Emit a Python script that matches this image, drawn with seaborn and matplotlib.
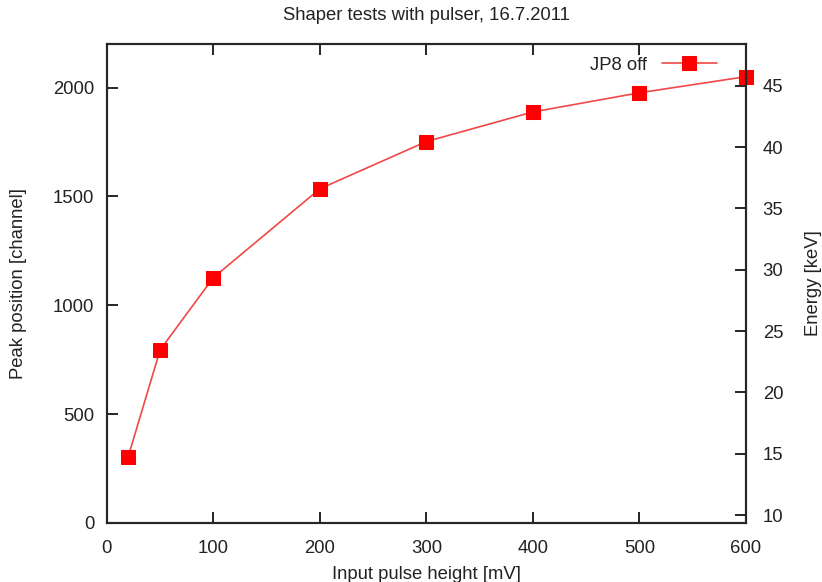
import matplotlib
matplotlib.use("Agg")
import matplotlib.pyplot as plt
import seaborn as sns
import pandas as pd

pulse_mV = [20, 50, 100, 200, 300, 400, 500, 600]
peak_channel = [304, 795, 1127, 1535, 1752, 1888, 1976, 2050]
x_ticks = [0, 100, 200, 300, 400, 500, 600]
y_ticks = [0, 500, 1000, 1500, 2000]
y2_ticks = [10, 15, 20, 25, 30, 35, 40, 45]

sns.set_style("ticks")
plt.rcParams['font.family'] = ['Liberation Sans', 'DejaVu Sans']
txt = '#222222'
fs = 13.3

fig = plt.figure(figsize=(8.22, 5.82), dpi=100)
ax = fig.add_axes([0.130, 0.1014, 0.7775, 0.823])

df = pd.DataFrame({"x": pulse_mV, "y": peak_channel})
sns.lineplot(data=df, x="x", y="y", ax=ax, color='#f04848', linewidth=1.2,
             marker='s', markersize=10.5, markeredgecolor='#ff0000',
             markerfacecolor='#ff0000', label='JP8 off', clip_on=False)

ax.set_xlim(0, 600)
ax.set_ylim(0, 2200)
ax.set_xticks(x_ticks)
ax.set_yticks(y_ticks)
ax.tick_params(axis='x', direction='in', length=8, width=1.2, top=True,
               labelsize=fs, colors='black', labelcolor=txt, pad=12)
ax.tick_params(axis='y', direction='in', length=8, width=1.2, right=False,
               labelsize=fs, colors='black', labelcolor=txt, pad=9)
for s in ax.spines.values():
    s.set_linewidth(1.5)
    s.set_color('black')

ax.set_xlabel('Input pulse height [mV]', fontsize=fs, color=txt, labelpad=7)
lab1 = ax.set_ylabel('Peak position [channel]', fontsize=fs, color=txt)
ax.yaxis.set_label_coords(-0.139, 0.5)
lab1.set_verticalalignment('center')
ax.set_title('Shaper tests with pulser, 16.7.2011', fontsize=fs, color=txt, pad=17)

ax2 = ax.twinx()
ax2.set_ylim(9.35, 48.4)
ax2.set_yticks(y2_ticks)
ax2.tick_params(axis='y', direction='in', length=8, width=1.2,
                labelsize=fs, colors='black', labelcolor=txt, pad=12)
lab = ax2.set_ylabel('Energy [keV]', fontsize=fs, color=txt, rotation=90)
ax2.yaxis.set_label_coords(1.106, 0.5)
lab.set_verticalalignment('center')
for s in ax2.spines.values():
    s.set_linewidth(1.5)

leg = ax.legend(loc='upper right', frameon=False, markerfirst=False,
                fontsize=fs, handlelength=3.0, borderaxespad=0.3,
                bbox_to_anchor=(0.975, 1.0))
for t in leg.get_texts():
    t.set_color(txt)

fig.savefig('out.png', dpi=100)
